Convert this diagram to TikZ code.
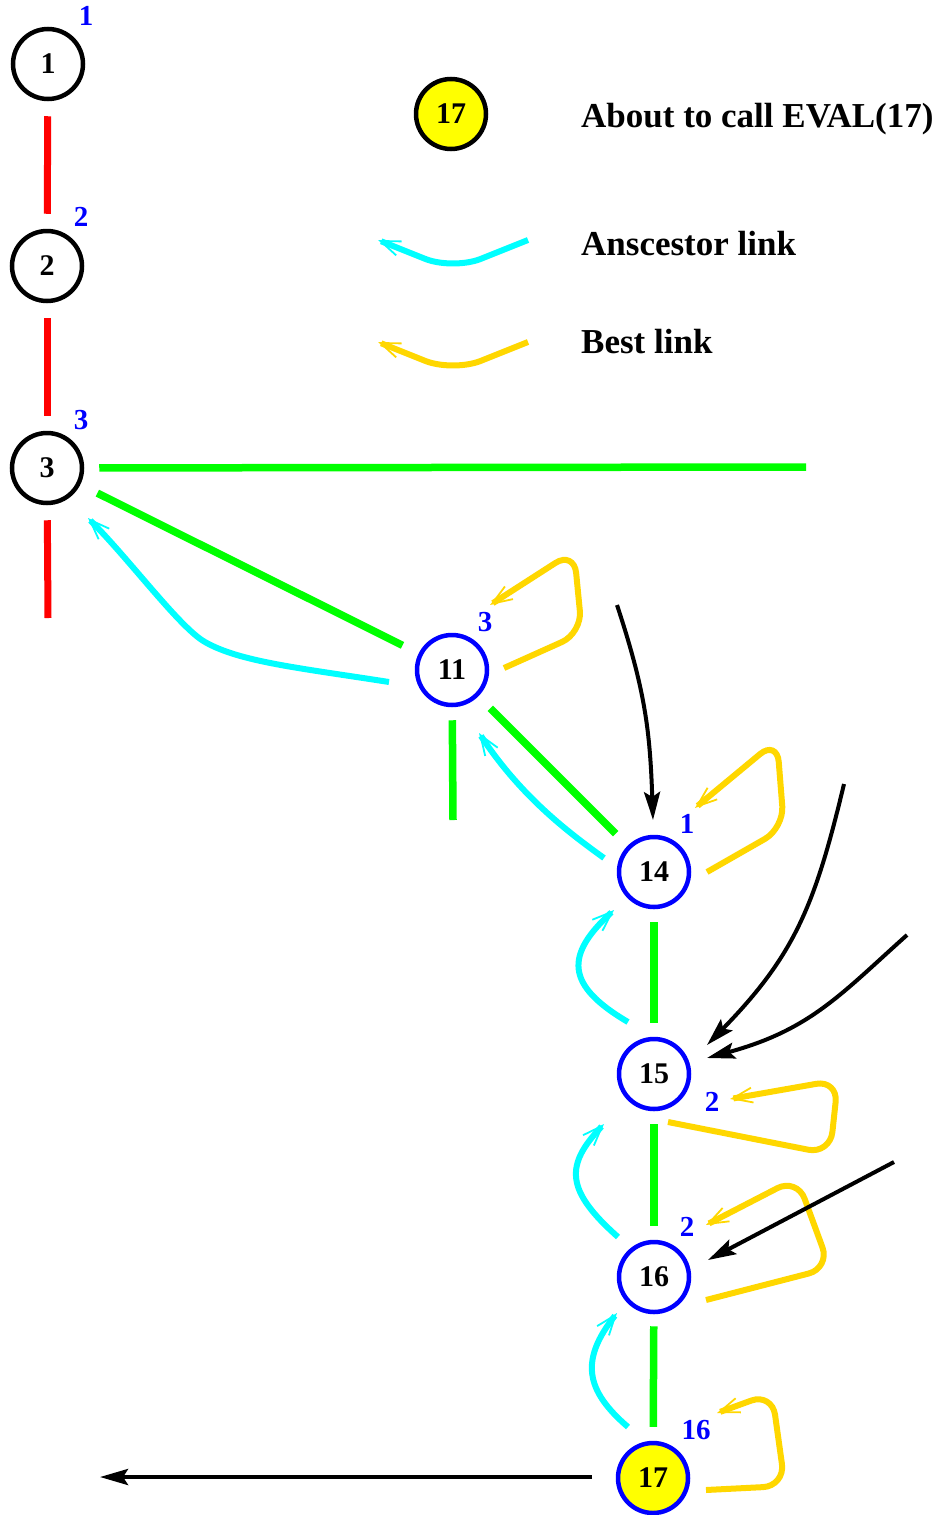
\documentclass[tikz,border=0pt]{standalone}
\usepackage{fontspec}
\newfontfamily\figserif{Liberation Serif}[UprightFont={Liberation Serif Bold},BoldFont={Liberation Serif Bold}]
\usetikzlibrary{arrows.meta}
\definecolor{linkcyan}{RGB}{0,255,255}
\definecolor{linkgold}{RGB}{255,215,0}
\definecolor{treegreen}{RGB}{0,255,0}
\definecolor{pathred}{RGB}{255,0,0}
\definecolor{markblue}{RGB}{0,0,255}
\definecolor{evalyellow}{RGB}{255,255,0}
\begin{document}
\begin{tikzpicture}[x=1pt,y=-1pt,
  vertex/.style={circle,draw,line width=4.5pt,minimum size=70pt,inner sep=0pt,
    font=\figserif\bfseries\fontsize{30}{30}\selectfont},
  pathvertex/.style={vertex,draw=black},
  treevertex/.style={vertex,draw=markblue},
  current/.style={fill=evalyellow},
  semilabel/.style={text=markblue,inner sep=0pt,font=\figserif\bfseries\fontsize{29}{29}\selectfont},
  caption/.style={anchor=base west,inner sep=0pt,font=\figserif\bfseries\fontsize{35}{35}\selectfont},
  redline/.style={draw=pathred,line width=7pt,shorten <=15pt,shorten >=15pt},
  greenline/.style={draw=treegreen,line width=7.5pt},
  barb/.tip={Straight Barb[length=20pt,width=15pt,line width=1.8pt]},
  ancestor/.style={draw=linkcyan,line width=6pt,-barb},
  best/.style={draw=linkgold,line width=6pt,rounded corners=22pt,-barb},
  call/.style={draw=black,line width=4pt,-{Stealth[length=28pt,width=16pt,inset=5pt]}}
]
\useasboundingbox (0,0) rectangle (942,1515);

% ---------- legend ----------
\node[pathvertex,current] (key17) at (451,114) {17};
\node[caption] (capeval) at (581,127) {About to call EVAL(17)};
\coordinate (ka1) at (528,240);
\coordinate (ka2) at (378,240);
\draw[ancestor,rounded corners=30pt] (ka1) -- (453,270) -- (ka2);
\node[caption] (capanc) at (581,255) {Anscestor link};
\coordinate (kb1) at (528,342);
\coordinate (kb2) at (378,342);
\draw[best,rounded corners=30pt] (kb1) -- (453,372) -- (kb2);
\node[caption] (capbest) at (581,353) {Best link};

% ---------- vertices ----------
\node[pathvertex] (n1) at (48,64) {1};
\node[pathvertex] (n2) at (47,266) {2};
\node[pathvertex] (n3) at (47,468) {3};
\node[treevertex] (n11) at (452,670) {11};
\node[treevertex] (n14) at (654,872) {14};
\node[treevertex] (n15) at (654,1074) {15};
\node[treevertex] (n16) at (654,1277) {16};
\node[treevertex,current] (n17) at (653,1478) {17};

% ---------- semi labels ----------
\node[semilabel] (m1) at (86,16) {1};
\node[semilabel] (m2) at (81,217) {2};
\node[semilabel] (m3) at (81,420) {3};
\node[semilabel] (m11) at (485,622) {3};
\node[semilabel] (m14) at (687,824) {1};
\node[semilabel] (m15) at (712,1102) {2};
\node[semilabel] (m16) at (687,1227) {2};
\node[semilabel] (m17) at (696,1430) {16};

% ---------- tree path (red) ----------
\coordinate (r3) at (48,618);
\draw[redline] (n1) -- (n2);
\draw[redline] (n2) -- (n3);
\draw[redline,shorten >=0pt] (n3) -- (r3);

% ---------- tree edges (green) ----------
\coordinate (g3) at (806,467);
\coordinate (g11) at (453,820);
\draw[greenline,shorten <=15pt] (n3) -- (g3);
\draw[greenline,shorten <=19pt,shorten >=18pt] (n3) -- (n11);
\draw[greenline,shorten <=13pt] (n11) -- (g11);
\draw[greenline,shorten <=17pt,shorten >=17pt] (n11) -- (n14);
\draw[greenline,shorten <=13pt,shorten >=14pt] (n14) -- (n15);
\draw[greenline,shorten <=13pt,shorten >=14pt] (n15) -- (n16);
\draw[greenline,shorten <=12pt,shorten >=14pt] (n16) -- (n17);

% ---------- ancestor links (cyan) ----------
\draw[ancestor] ([shift={(-63,12)}]n11.center)
  .. controls (300,668) and (240,662) .. (205,642)
  .. controls (180,628) and (130,560) .. ([shift={(41,50)}]n3.center);
\draw[ancestor] ([shift={(-50,-14)}]n14.center)
  .. controls (565,830) and (520,795) .. ([shift={(27,63)}]n11.center);
\draw[ancestor] ([shift={(-26,-52)}]n15.center)
  .. controls (565,985) and (565,955) .. ([shift={(-40,38)}]n14.center);
\draw[ancestor] ([shift={(-36,-40)}]n16.center)
  .. controls (565,1190) and (565,1165) .. ([shift={(-50,50)}]n15.center);
\draw[ancestor] ([shift={(-25,-51)}]n17.center)
  .. controls (585,1390) and (580,1360) .. ([shift={(-37,36)}]n16.center);

% ---------- best links (gold) ----------
\draw[best] ([shift={(52,-2)}]n11.center) -- (582,633) -- (574,551) -- ([shift={(38,-65)}]n11.center);
\draw[best] ([shift={(53,0)}]n14.center) -- (784,828) -- (777,740) -- ([shift={(41,-64)}]n14.center);
\draw[best] ([shift={(14,48)}]n15.center) -- (830,1154) -- (838,1080) -- ([shift={(76,25)}]n15.center);
\draw[best] ([shift={(52,23)}]n16.center) -- (830,1268) -- (797,1178) -- ([shift={(52,-52)}]n16.center);
\draw[best] ([shift={(53,12)}]n17.center) -- (785,1486) -- (772,1393) -- ([shift={(64,-65)}]n17.center);

% ---------- calls (black) ----------
\coordinate (c1) at (617,605);
\coordinate (c2) at (844,784);
\coordinate (c3) at (907,935);
\coordinate (c4) at (894,1162);
\coordinate (c5) at (100,1477);
\draw[call] (c1) .. controls (645,690) and (650,730) .. ([shift={(-1,-52)}]n14.center);
\draw[call] (c2) .. controls (815,905) and (795,955) .. ([shift={(53,-29)}]n15.center);
\draw[call] (c3) .. controls (840,995) and (810,1030) .. ([shift={(53,-16)}]n15.center);
\draw[call] (c4) -- ([shift={(54,-17)}]n16.center);
\draw[call] ([shift={(-61,-1)}]n17.center) -- (c5);
\end{tikzpicture}
\end{document}
